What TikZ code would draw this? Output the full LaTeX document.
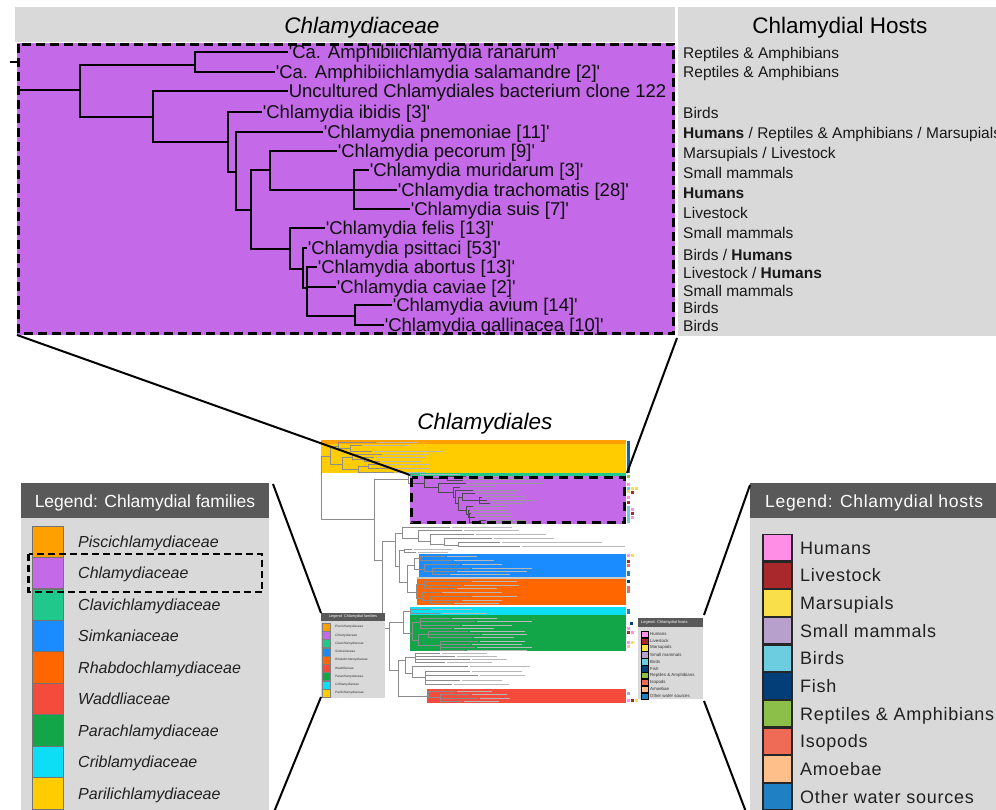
\documentclass[tikz,border=0pt]{standalone}
\usepackage{fontspec}
\setmainfont{Liberation Sans}
\newfontfamily\plainsans{Liberation Sans}
\newfontfamily\spacedsans{Liberation Sans}[LetterSpace=4]
\newcommand\setfs[1]{\fontsize{#1}{#1}\selectfont}
\definecolor{hdrgrey}{RGB}{217,217,217}
\definecolor{leghdr}{RGB}{89,89,89}
\definecolor{chlamy}{RGB}{196,106,232}
\definecolor{pisci}{RGB}{255,160,0}
\definecolor{clavi}{RGB}{32,200,140}
\definecolor{simka}{RGB}{26,140,255}
\definecolor{rhabdo}{RGB}{255,102,0}
\definecolor{waddl}{RGB}{244,75,60}
\definecolor{para}{RGB}{18,166,72}
\definecolor{cribl}{RGB}{14,222,245}
\definecolor{parili}{RGB}{255,204,0}
\definecolor{hHum}{RGB}{255,143,230}
\definecolor{hLiv}{RGB}{168,40,44}
\definecolor{hMar}{RGB}{249,224,74}
\definecolor{hSma}{RGB}{184,160,204}
\definecolor{hBir}{RGB}{109,205,224}
\definecolor{hFis}{RGB}{3,62,120}
\definecolor{hRep}{RGB}{140,191,74}
\definecolor{hIso}{RGB}{239,107,86}
\definecolor{hAmo}{RGB}{255,191,138}
\definecolor{hOth}{RGB}{32,128,196}
\tikzset{
  ttree/.style={draw=black, line width=2.6pt, line join=miter},
  mtreeP/.style={draw=black!70, line width=0.6pt},
  mtree/.style={draw=black!45, line width=0.6pt},
  mlabP/.style={draw=black!40, line width=1pt},
  mlab/.style={draw=black!28, line width=1pt},
  tlab/.style={anchor=west, inner sep=0.6pt, text=black!95, font=\plainsans\setfs{18.5}, text height=13.2pt, text depth=0pt},
  hostt/.style={anchor=west, inner sep=0pt, text=black!90, font=\setfs{15.5}, text height=11.1pt, text depth=0pt},
  famlab/.style={anchor=west, inner sep=0pt, text=black!87, font=\setfs{16}\itshape, text height=11.5pt, text depth=0pt},
  hlab/.style={anchor=west, inner sep=0pt, text=black!87, font=\spacedsans\setfs{18}, text height=12.9pt, text depth=0pt},
  ttlfont/.style={inner sep=0pt, font=\setfs{22.5}, text height=16.1pt, text depth=0pt},
  conn/.style={draw=black, line width=2pt},
  bigdash/.style={draw=black, line width=3pt, dash pattern=on 9pt off 5pt},
}
\newcommand\chEdges[1]{%
  \draw[#1] (20,90) -- (80,90)
    (80,90) |- (195,65) (80,90) |- (153,117)
    (195,65) |- (288,52) (195,65) |- (275,72)
    (153,117) |- (288,91) (153,117) |- (228,142)
    (228,142) |- (262,112) (228,142) |- (236,172)
    (236,172) |- (323,132) (236,172) |- (251,210)
    (251,210) |- (270,170) (251,210) |- (290,249)
    (270,170) |- (337,151) (270,170) |- (354,190)
    (354,190) |- (369,170) (354,190) -- (397,190) (354,190) |- (410,209)
    (290,249) |- (325,228) (290,249) |- (303,269)
    (303,269) |- (307,248) (303,269) |- (307,288)
    (307,288) |- (317,267) (307,288) |- (336,287) (307,288) |- (355,316)
    (355,316) |- (392,305) (355,316) |- (384,325);}
\newcommand\chLabLines{%
  \draw[mlabP] (295,52) -- ++(269,0) (282,72) -- ++(323,0) (295,91) -- ++(382,0)
    (269,112) -- ++(172,0) (330,132) -- ++(228,0) (344,151) -- ++(196,0)
    (376,170) -- ++(212,0) (404,190) -- ++(230,0) (417,209) -- ++(156,0)
    (332,228) -- ++(167,0) (314,248) -- ++(191,0) (324,267) -- ++(197,0)
    (343,287) -- ++(178,0) (399,305) -- ++(187,0) (391,325) -- ++(219,0);}
\newcommand\hm[3]{\fill[#3] (#1,#2) rectangle ++(3,3);}
\begin{document}
\begin{tikzpicture}[x=1pt,y=-1pt]
\useasboundingbox (0,0) rectangle (996,810);
\fill[white] (0,0) rectangle (996,810);

% ---------- top panel ----------
\fill[hdrgrey] (15,7) rectangle (675,42);
\fill[hdrgrey] (678,7) rectangle (996,336);
\node[ttlfont, font=\setfs{22.5}\itshape] (ttl) at (362,25) {Chlamydiaceae};
\node[ttlfont] (hst) at (840,25) {Chlamydial Hosts};
\fill[chlamy] (17,43) rectangle (675,335);
\draw[black, line width=1.5pt] (10,62) -- (17,62);
\chEdges{ttree}
\node[tlab] (L1) at (288,52) {'Ca. Amphibiichlamydia ranarum'};
\node[tlab] (L2) at (275,72) {'Ca. Amphibiichlamydia salamandre [2]'};
\node[tlab] (L3) at (288,91) {Uncultured Chlamydiales bacterium clone 122};
\node[tlab] (L4) at (262,112) {'Chlamydia ibidis [3]'};
\node[tlab] (L5) at (323,132) {'Chlamydia pnemoniae [11]'};
\node[tlab] (L6) at (337,151) {'Chlamydia pecorum [9]'};
\node[tlab] (L7) at (369,170) {'Chlamydia muridarum [3]'};
\node[tlab] (L8) at (397,190) {'Chlamydia trachomatis [28]'};
\node[tlab] (L9) at (410,209) {'Chlamydia suis [7]'};
\node[tlab] (L10) at (325,228) {'Chlamydia felis [13]'};
\node[tlab] (L11) at (307,248) {'Chlamydia psittaci [53]'};
\node[tlab] (L12) at (317,267) {'Chlamydia abortus [13]'};
\node[tlab] (L13) at (336,287) {'Chlamydia caviae [2]'};
\node[tlab] (L14) at (392,305) {'Chlamydia avium [14]'};
\node[tlab] (L15) at (384,325) {'Chlamydia gallinacea [10]'};
\draw[bigdash] (18.5,44.5) rectangle (673.5,333.5);

\node[hostt] (H1) at (683,53) {Reptiles \& Amphibians};
\node[hostt] (H2) at (683,72) {Reptiles \& Amphibians};
\node[hostt] (H4) at (683,113) {Birds};
\node[hostt] (H5) at (683,133) {\textbf{Humans} / Reptiles \& Amphibians / Marsupials};
\node[hostt] (H6) at (683,153) {Marsupials / Livestock};
\node[hostt] (H7) at (683,173) {Small mammals};
\node[hostt] (H8) at (683,193) {\textbf{Humans}};
\node[hostt] (H9) at (683,213) {Livestock};
\node[hostt] (H10) at (683,233) {Small mammals};
\node[hostt] (H11) at (683,255) {Birds / \textbf{Humans}};
\node[hostt] (H12) at (683,273) {Livestock / \textbf{Humans}};
\node[hostt] (H13) at (683,291) {Small mammals};
\node[hostt] (H14) at (683,308) {Birds};
\node[hostt] (H15) at (683,326) {Birds};

% ---------- central tree ----------
\node[ttlfont, font=\setfs{22.5}\itshape] (ctl) at (485,421) {Chlamydiales};
\fill[parili] (321,440) rectangle (626,473);
\fill[pisci] (321,440) rectangle (626,443.5);
\fill[clavi] (410,473) rectangle (626,476);
\fill[chlamy] (410,476) rectangle (626,524);
\fill[simka] (419,554) rectangle (626,577);
\fill[black!22] (417,577) rectangle (626,579);
\fill[rhabdo] (417,579) rectangle (626,605);
\fill[cribl] (410,607) rectangle (626,615);
\fill[para] (410,615) rectangle (626,651);
\fill[waddl] (427,689) rectangle (626,703);

\draw[mtree]
  (321,488) |- (330,456) (321,488) |- (374,519)
  (330,456) |- (338,446) (330,456) |- (342,464)
  (338,446) |- (376,442) (338,446) |- (350,448)
  (350,448) |- (362,445) (350,448) |- (372,451)
  (342,464) |- (352,457) (342,464) |- (358,469)
  (352,457) |- (382,454) (352,457) |- (364,459)
  (364,459) |- (374,457) (364,459) |- (380,461)
  (358,469) |- (368,466) (358,469) |- (394,472)
  (368,466) |- (382,464) (368,466) |- (388,468)
  (374,519) |- (408,479) (374,519) |- (382,560)
  (408,479) |- (418,474.5) (408,479) |- (412,483)
  (382,560) |- (395,541) (382,560) |- (389,628)
  (395,541) |- (402,533) (395,541) |- (399,566)
  (402,533) |- (450,527) (402,533) |- (418,538)
  (418,538) |- (462,530) (418,538) |- (430,541)
  (430,541) |- (474,534) (430,541) |- (444,544)
  (444,544) |- (492,538) (444,544) |- (458,545)
  (458,545) |- (500,542) (458,545) |- (520,546)
  (399,566) |- (404,550) (399,566) |- (407,582)
  (404,550) |- (412,549) (404,550) |- (416,552)
  (407,582) |- (414,565) (407,582) |- (416,592)
  (414,565) |- (420,558) (414,565) |- (424,569)
  (420,558) |- (445,556) (420,558) |- (452,560)
  (424,569) |- (460,564) (424,569) |- (432,571)
  (432,571) |- (470,568) (432,571) |- (455,571) (432,571) |- (448,574)
  (416,592) |- (424,584) (416,592) |- (422,598)
  (424,584) |- (470,581) (424,584) |- (462,585) (424,584) |- (455,588)
  (422,598) |- (440,592) (422,598) |- (430,600)
  (430,600) |- (470,596) (430,600) |- (460,600) (430,600) |- (452,603)
  (389,628) |- (403,622) (389,628) |- (398,670)
  (403,622) |- (410,611) (403,622) |- (412,633)
  (410,611) |- (430,609) (410,611) |- (440,613)
  (412,633) |- (420,622) (412,633) |- (418,640)
  (420,622) |- (450,618) (420,622) |- (475,621) (420,622) |- (460,625) (420,622) |- (452,628)
  (418,640) |- (428,634) (418,640) |- (440,645)
  (428,634) |- (468,631) (428,634) |- (480,634) (428,634) |- (472,637)
  (440,645) |- (478,641) (440,645) |- (470,644) (440,645) |- (475,647) (440,645) |- (465,650)
  (398,670) |- (405,660) (398,670) |- (428,696)
  (405,660) |- (415,657) (405,660) |- (412,673)
  (415,657) |- (440,653) (415,657) |- (455,656) (415,657) |- (470,659) (415,657) |- (445,662)
  (412,673) |- (468,666) (412,673) |- (425,677)
  (425,677) |- (470,671) (425,677) |- (478,675) (425,677) |- (460,680) (425,677) |- (452,684)
  (428,696) |- (455,691) (428,696) |- (440,697)
  (440,697) |- (470,694) (440,697) |- (478,698) (440,697) |- (462,701);

\draw[mlab]
  (378,442) -- ++(40,0) (364,445) -- ++(45,0) (374,451) -- ++(70,0)
  (384,454) -- ++(45,0) (376,457) -- ++(50,0) (382,461) -- ++(40,0)
  (384,464) -- ++(45,0) (390,468) -- ++(40,0) (396,472) -- ++(30,0)
  (420,474.5) -- ++(40,0)
  (452,527) -- ++(60,0) (464,530) -- ++(55,0) (476,534) -- ++(70,0)
  (494,538) -- ++(60,0) (502,542) -- ++(100,0) (522,546) -- ++(103,0)
  (414,549) -- ++(38,0) (418,552) -- ++(30,0)
  (447,556) -- ++(30,0) (454,560) -- ++(40,0) (462,564) -- ++(40,0)
  (472,568) -- ++(60,0) (457,571) -- ++(70,0) (450,574) -- ++(60,0)
  (472,581) -- ++(45,0) (464,585) -- ++(55,0) (457,588) -- ++(40,0)
  (442,592) -- ++(60,0) (472,596) -- ++(45,0) (462,600) -- ++(40,0) (454,603) -- ++(45,0)
  (432,609) -- ++(40,0) (442,613) -- ++(45,0)
  (452,618) -- ++(45,0) (477,621) -- ++(55,0) (462,625) -- ++(50,0) (454,628) -- ++(40,0)
  (470,631) -- ++(55,0) (482,634) -- ++(45,0) (474,637) -- ++(40,0)
  (480,641) -- ++(45,0) (472,644) -- ++(50,0) (477,647) -- ++(55,0) (467,650) -- ++(60,0)
  (442,653) -- ++(45,0) (457,656) -- ++(40,0) (472,659) -- ++(35,0) (447,662) -- ++(45,0)
  (470,666) -- ++(60,0) (472,671) -- ++(50,0) (480,675) -- ++(45,0) (462,680) -- ++(40,0) (454,684) -- ++(55,0)
  (457,691) -- ++(35,0) (472,694) -- ++(35,0) (480,698) -- ++(30,0) (464,701) -- ++(35,0);

\begin{scope}[shift={(408,467.56)}, xscale=0.2, yscale=0.172]
  \chEdges{mtreeP}
  \chLabLines
\end{scope}

% host marks
\fill[hOth!55!hFis] (627,441) rectangle (629.5,473);
\hm{627}{475}{hRep}
\hm{627}{483}{hHum} \hm{627}{487}{hBir} \hm{631}{487}{hMar} \hm{634.5}{487}{hMar}
\hm{627}{490}{hMar} \hm{631}{491}{hLiv} \hm{627}{496}{hHum} \hm{627}{501}{hLiv}
\fill[hBir] (627,506) rectangle (630,523);
\hm{631}{508}{hHum} \hm{631}{512}{hLiv} \hm{631}{516}{hHum}
\hm{627}{554}{hHum} \hm{631}{554}{hMar} \hm{627}{560}{hLiv} \hm{627}{564}{hIso}
\fill[hOth] (627,571) rectangle (630,576);
\hm{627}{580}{hFis} \fill[hIso] (627,586) rectangle (630,593);
\fill[hOth] (627,609) rectangle (630,614);
\hm{630}{622}{hFis} \hm{627}{627}{hHum} \hm{627}{631}{hLiv} \hm{631}{631}{hHum}
\hm{627}{641}{hHum} \hm{631}{641}{hMar} \hm{627}{645}{hAmo}
\hm{627}{692}{hSma} \hm{627}{699}{hHum} \hm{631}{699}{hLiv} \hm{634.5}{699}{hMar}

\draw[black, line width=3.2pt, dash pattern=on 9pt off 6pt] (411.5,477.5) rectangle (624.5,522.5);

% small family legend
\fill[hdrgrey] (321,613) rectangle (385,698);
\fill[leghdr] (321,613) rectangle (385,620.5);
\node[text=white, font=\setfs{3.8}, inner sep=0pt] (sft) at (353,616.8) {Legend: Chlamydial families};
\foreach \c/\n [count=\i from 0] in {pisci/Piscichlamydiaceae, chlamy/Chlamydiaceae, clavi/Clavichlamydiaceae, simka/Simkaniaceae, rhabdo/Rhabdochlamydiaceae, waddl/Waddliaceae, para/Parachlamydiaceae, cribl/Criblamydiaceae, parili/Parilichlamydiaceae}{
  \pgfmathsetmacro\yc{627+8.25*\i}
  \filldraw[fill=\c, draw=black!50, line width=0.3pt] (322.5,\yc-4) rectangle (330.5,\yc+4);
  \node[anchor=west, inner sep=0pt, font=\setfs{3.2}\itshape, text=black!80] (sf\i) at (335,\yc) {\n};
}

% small host legend
\fill[hdrgrey] (638,618) rectangle (703,699);
\fill[leghdr] (638,618) rectangle (703,627);
\node[anchor=west, text=white, font=\setfs{4}, inner sep=0pt] (sht) at (641,622.5) {Legend: Chlamydial hosts};
\foreach \c/\n [count=\i from 0] in {hHum/Humans, hLiv/Livestock, hMar/Marsupials, hSma/Small mammals, hBir/Birds, hFis/Fish, hRep/Reptiles \& Amphibians, hIso/Isopods, hAmo/Amoebae, hOth/Other water sources}{
  \pgfmathsetmacro\yc{634+6.9*\i}
  \filldraw[fill=\c, draw=black, line width=0.4pt] (641,\yc-3.2) rectangle (648,\yc+3.2);
  \node[anchor=west, inner sep=0pt, font=\setfs{4.4}, text=black!80] (sh\i) at (650,\yc) {\n};
}

% big family legend
\fill[leghdr] (21,483) rectangle (269,518);
\fill[hdrgrey] (21,518) rectangle (269,812);
\node[text=white, font=\setfs{17.5}, inner sep=0pt, text height=12.5pt, text depth=0pt] (lft) at (145,501) {Legend: Chlamydial families};
\foreach \c/\n [count=\i from 0] in {pisci/Piscichlamydiaceae, chlamy/Chlamydiaceae, clavi/Clavichlamydiaceae, simka/Simkaniaceae, rhabdo/Rhabdochlamydiaceae, waddl/Waddliaceae, para/Parachlamydiaceae, cribl/Criblamydiaceae, parili/Parilichlamydiaceae}{
  \pgfmathsetmacro\yc{541.7+31.45*\i}
  \filldraw[fill=\c, draw=black!55, line width=0.8pt] (32,\yc-15.7) rectangle (63,\yc+15.7);
  \node[famlab] (lf\i) at (78,\yc) {\n};
}
\draw[black, line width=2.6pt, dash pattern=on 7pt off 4pt] (28.5,554) rectangle (262,592);

% big host legend
\fill[leghdr] (750,483) rectangle (996,518);
\fill[hdrgrey] (750,518) rectangle (996,812);
\node[anchor=west, text=white, font=\spacedsans\setfs{17.5}, inner sep=0pt, text height=12.5pt, text depth=0pt] (rht) at (765,501) {Legend: Chlamydial hosts};
\foreach \c/\n [count=\i from 0] in {hHum/Humans, hLiv/Livestock, hMar/Marsupials, hSma/Small mammals, hBir/Birds, hFis/Fish, hRep/Reptiles \& Amphibians, hIso/Isopods, hAmo/Amoebae, hOth/Other water sources}{
  \pgfmathsetmacro\yc{547.7+27.67*\i}
  \filldraw[fill=\c, draw=black!85, line width=1.2pt] (763,\yc-13.3) rectangle (792,\yc+13.3);
  \node[hlab] (rh\i) at (800,\yc) {\n};
}

% connectors
\coordinate (tpBL) at (17,335);
\coordinate (mpTL) at (410,475);
\coordinate (tpBR) at (677,338);
\coordinate (mpTR) at (627,473);
\coordinate (lfTR) at (273,484);
\coordinate (slTL) at (321,613);
\coordinate (slBL) at (321,697);
\coordinate (lfBR) at (274,812);
\coordinate (rhTL) at (750,485);
\coordinate (shTR) at (704,615);
\coordinate (shBR) at (704,701);
\coordinate (rhBL) at (746,812);
\draw[conn] (tpBL) -- (mpTL);
\draw[conn] (tpBR) -- (mpTR);
\draw[conn] (lfTR) -- (slTL);
\draw[conn] (slBL) -- (lfBR);
\draw[conn] (rhTL) -- (shTR);
\draw[conn] (shBR) -- (rhBL);
\end{tikzpicture}
\end{document}
